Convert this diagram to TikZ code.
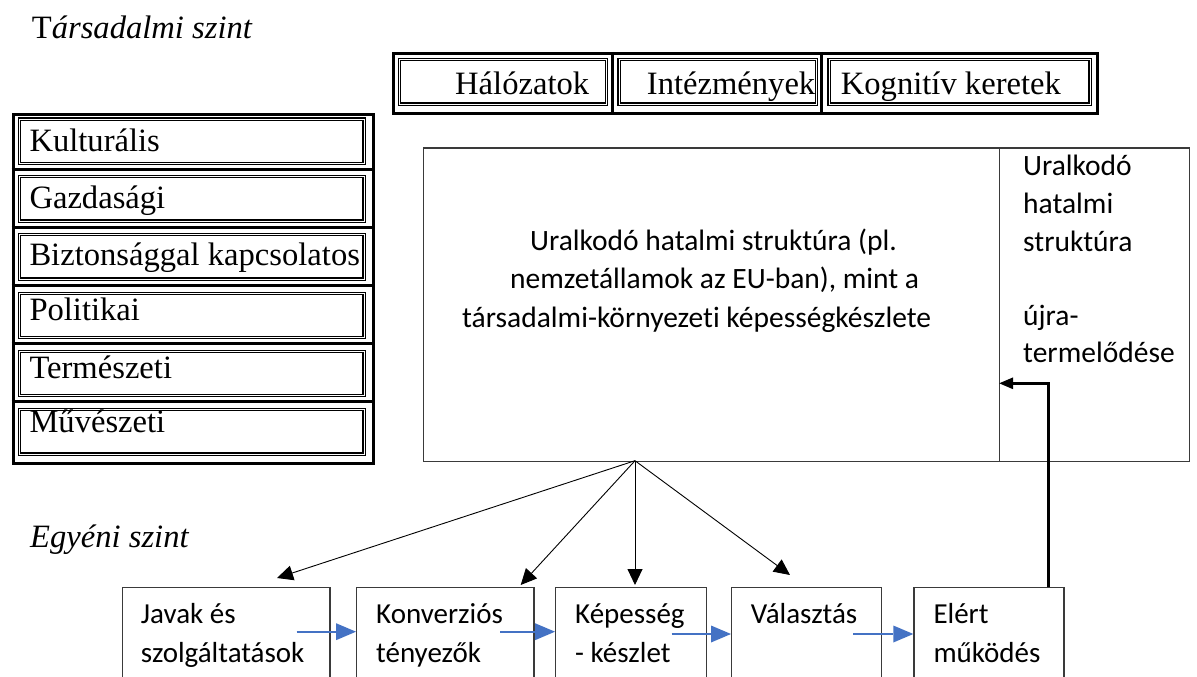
\documentclass[tikz,border=0pt]{standalone}
\usepackage{fontspec}
\setmainfont{Liberation Serif}
\newfontfamily\calfont[Ligatures=NoCommon]{Carlito}
\usetikzlibrary{arrows.meta}
\definecolor{arrowblue}{HTML}{4472C4}
\definecolor{boxgray}{HTML}{3A3A3A}
\begin{document}
\begin{tikzpicture}[x=1pt,y=-1pt,
  serif/.style={font=\fontsize{32.6}{39}\selectfont, inner sep=0pt, anchor=base west},
  cal/.style={font=\calfont\fontsize{29.5}{38.5}\selectfont, inner sep=0pt, anchor=base west},
  calsmall/.style={font=\calfont\fontsize{29}{38}\selectfont, inner sep=0pt, anchor=base west},
  frame/.style={draw=black, line width=3pt, inner sep=0pt, anchor=north west},
  cell/.style={draw=black, double=white, double distance=0.8pt, line width=1.25pt, inner sep=0pt, anchor=north west},
  sepline/.style={draw=black, line width=2.6pt},
  plainbox/.style={draw=boxgray, line width=1.2pt, inner sep=0pt, anchor=north west},
  thinarrow/.style={draw=black, line width=0.9pt, -{Triangle[length=16pt,width=15pt]}},
  bluearrow/.style={draw=arrowblue, line width=2.2pt, -{Triangle[length=20pt,width=17pt,line width=0pt]}},
  fbarrow/.style={draw=black, line width=2.6pt, -{Triangle[length=14pt,width=11pt]}}
]
\useasboundingbox (0,0) rectangle (1197,677);
\fill[white] (0,0) rectangle (1197,677);
\clip (0,0) rectangle (1197,677);

% titles
\node[serif] (tarsadalmi) at (31.7,38.3) {\textup{T}\textit{ársadalmi szint}};
\node[serif] (egyeni) at (30,547) {\textit{Egyéni szint}};

% top table
\node[frame, minimum width=704pt, minimum height=59.5pt] (toptab) at (392.3,52) {};
\node[cell, minimum width=207pt, minimum height=44.3pt] (cellA) at (399,59) {};
\node[cell, minimum width=197.4pt, minimum height=44.3pt] (cellB) at (618.3,59) {};
\node[cell, minimum width=261pt, minimum height=44.3pt] (cellC) at (828.3,59) {};
\draw[sepline] (612.3,52) -- (612.3,111.5);
\draw[sepline] (821.7,52) -- (821.7,111.5);
\node[serif] (halo) at (455,94) {Hálózatok};
\node[serif] (intez) at (646.7,94) {Intézmények};
\node[serif] (kogn) at (840.7,94) {Kognitív keretek};

% left table
\node[frame, minimum width=360pt, minimum height=349pt] (lefttab) at (11.7,112.7) {};
\foreach \yy in {169.3,227.3,285.7,343.3,401.7}{
  \draw[sepline] (11.7,\yy) -- (371.7,\yy);
}
\foreach \yy/\nm in {118.3/r1,176/r2,234/r3,292.7/r4,350.7/r5,409/r6}{
  \node[cell, minimum width=344.3pt, minimum height=44.4pt] (\nm) at (19,\yy) {};
}
\node[serif] (kult) at (29.3,151.7) {Kulturális};
\node[serif] (gazd) at (29.3,208.3) {Gazdasági};
\node[serif] (bizt) at (29.3,265) {Biztonsággal kapcsolatos};
\node[serif] (poli) at (29.3,320.7) {Politikai};
\node[serif] (term) at (29.3,378.3) {Természeti};
\node[serif] (muv) at (29.3,432.7) {Művészeti};

% main box
\node[plainbox, minimum width=576.3pt, minimum height=313.4pt] (mainL) at (422.7,147.3) {};
\node[plainbox, minimum width=190pt, minimum height=313.4pt] (mainR) at (999,147.3) {};
\node[cal] (m1) at (530,250) {Uralkodó hatalmi struktúra (pl.};
\node[cal] (m2) at (510,288.5) {nemzetállamok az EU-ban), mint a};
\node[cal] (m3) at (462,327) {társadalmi-környezeti képességkészlete};
\node[cal] (r1t) at (1023,175) {Uralkodó};
\node[cal] (r2t) at (1023,213) {hatalmi};
\node[cal] (r3t) at (1023,251) {struktúra};
\node[cal] (r4t) at (1023,325) {újra-};
\node[cal] (r5t) at (1023,362) {termelődése};

% bottom boxes
\node[plainbox, minimum width=207.6pt, minimum height=120pt] (jav) at (121.7,586.7) {};
\node[plainbox, minimum width=177.3pt, minimum height=120pt] (konv) at (356,586.7) {};
\node[plainbox, minimum width=151pt, minimum height=120pt] (kep) at (555,586.7) {};
\node[plainbox, minimum width=149.7pt, minimum height=120pt] (val) at (731,586.7) {};
\node[plainbox, minimum width=150pt, minimum height=120pt] (elert) at (913.3,586.7) {};

\node[calsmall] (jav1) at (140.7,623.3) {Javak és};
\node[calsmall] (jav2) at (140.7,662.7) {szolgáltatások};
\node[calsmall] (konv1) at (376,623.3) {Konverziós};
\node[calsmall] (konv2) at (376,662.7) {tényezők};
\node[calsmall] (kep1) at (575,623.3) {Képesség};
\node[calsmall] (kep2) at (575,662.7) {- készlet};
\node[calsmall] (val1) at (750.7,623.3) {Választás};
\node[calsmall] (el1) at (933.3,623.3) {Elért};
\node[calsmall] (el2) at (933.3,662.7) {működés};

% black arrows from main box
\coordinate (apex) at (635,460.7);
\coordinate (tipA) at (277,578);
\coordinate (tipB) at (520.7,585);
\coordinate (tipC) at (635,585);
\coordinate (tipD) at (790,575);
\draw[thinarrow] (apex) -- (tipA);
\draw[thinarrow] (apex) -- (tipB);
\draw[thinarrow] (apex) -- (tipC);
\draw[thinarrow] (apex) -- (tipD);

% blue arrows
\coordinate (b1) at (296.7,631.7);
\coordinate (b2) at (500,631.7);
\coordinate (b3) at (671.7,634);
\coordinate (b4) at (853,634);
\draw[bluearrow] (b1) -- (b1 -| konv.west);
\draw[bluearrow] (b2) -- (b2 -| kep.west);
\draw[bluearrow] (b3) -- (b3 -| val.west);
\draw[bluearrow] (b4) -- (b4 -| elert.west);

% feedback arrow
\coordinate (fbS) at (1048.5,586.7);
\coordinate (fbT) at (999,383.3);
\draw[fbarrow] (fbS) |- (fbT);
\end{tikzpicture}
\end{document}
